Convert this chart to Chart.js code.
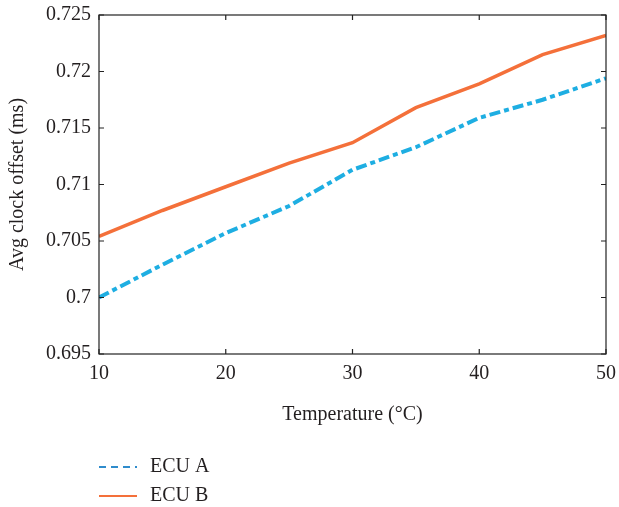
<!DOCTYPE html>
<html>
<head>
<meta charset="utf-8">
<script src="https://cdn.jsdelivr.net/npm/chart.js@4.4.0/dist/chart.umd.min.js"></script>
<style>
  html, body { margin: 0; padding: 0; background: #fff; }
  #wrap { width: 619px; height: 507px; position: relative; }
</style>
</head>
<body>
<div id="wrap"><canvas id="chart"></canvas></div>
<script>
const temps = [10, 15, 20, 25, 30, 35, 40, 45, 50]
const ecuA = [0.7000, 0.7029, 0.7057, 0.7081, 0.7113, 0.7133, 0.7159, 0.7175, 0.7194]
const ecuB = [0.7054, 0.7077, 0.7098, 0.7119, 0.7137, 0.7168, 0.7189, 0.7215, 0.7232]
const seriesNames = ["ECU A", "ECU B"]
const xTicks = [10, 20, 30, 40, 50]

const blue = "#1eaee2"
const orange = "#f4703a"
const font = "'Liberation Serif', 'DejaVu Serif', serif"

// frame box with inward ticks on all four sides
const boxPlugin = {
  id: "box",
  afterDraw(chart) {
    const { ctx, chartArea: a, scales } = chart
    ctx.save()
    ctx.strokeStyle = "#222"
    ctx.lineWidth = 1.2
    ctx.strokeRect(a.left, a.top, a.right - a.left, a.bottom - a.top)
    const len = 5
    scales.x.ticks.forEach(t => {
      const px = scales.x.getPixelForValue(t.value)
      ctx.beginPath()
      ctx.moveTo(px, a.bottom); ctx.lineTo(px, a.bottom - len)
      ctx.moveTo(px, a.top); ctx.lineTo(px, a.top + len)
      ctx.stroke()
    })
    scales.y.ticks.forEach(t => {
      const py = scales.y.getPixelForValue(t.value)
      ctx.beginPath()
      ctx.moveTo(a.left, py); ctx.lineTo(a.left + len, py)
      ctx.moveTo(a.right, py); ctx.lineTo(a.right - len, py)
      ctx.stroke()
    })
    ctx.restore()
  }
}

// vertical legend under the x-axis title
const legendPlugin = {
  id: "vlegend",
  afterDraw(chart) {
    const { ctx } = chart
    const colors = ["#2f8ccc", orange]
    ctx.save()
    ctx.font = "20px " + font
    ctx.fillStyle = "#231f20"
    ctx.textBaseline = "middle"
    chart.data.datasets.forEach((ds, i) => {
      const y = 467 + i * 29
      ctx.beginPath()
      ctx.strokeStyle = colors[i]
      ctx.lineWidth = 2
      ctx.setLineDash(i === 0 ? [7, 5] : [])
      ctx.moveTo(99, y); ctx.lineTo(137, y)
      ctx.stroke()
      ctx.setLineDash([])
      ctx.fillText(ds.label, 150, y)
    })
    ctx.restore()
  }
}

new Chart(document.getElementById("chart"), {
  type: "line",
  data: {
    datasets: [
      {
        label: seriesNames[0],
        data: temps.map((t, i) => ({ x: t, y: ecuA[i] })),
        borderColor: blue,
        borderWidth: 4,
        borderDash: [11, 4, 5, 4],
        pointRadius: 0,
        tension: 0,
        fill: false
      },
      {
        label: seriesNames[1],
        data: temps.map((t, i) => ({ x: t, y: ecuB[i] })),
        borderColor: orange,
        borderWidth: 3.5,
        pointRadius: 0,
        tension: 0,
        fill: false
      }
    ]
  },
  options: {
    responsive: true,
    maintainAspectRatio: false,
    animation: false,
    layout: { autoPadding: false, padding: { top: 15, right: 13, bottom: 76, left: 2 } },
    plugins: { legend: { display: false }, tooltip: { enabled: false } },
    scales: {
      x: {
        type: "linear",
        min: 10,
        max: 50,
        afterBuildTicks: s => { s.ticks = xTicks.map(v => ({ value: v })) },
        afterFit: s => { s.paddingLeft = 0; s.paddingRight = 0 },
        grid: { display: false, drawTicks: false },
        border: { display: false },
        ticks: { color: "#231f20", font: { family: font, size: 20 }, padding: 8 },
        title: {
          display: true,
          text: "Temperature (°C)",
          color: "#231f20",
          font: { family: font, size: 20 },
          padding: { top: 9 }
        }
      },
      y: {
        min: 0.695,
        max: 0.725,
        afterFit: s => { s.paddingTop = 0; s.paddingBottom = 0 },
        ticks: {
          stepSize: 0.005,
          color: "#231f20",
          font: { family: font, size: 20 },
          padding: 8,
          callback: v => String(parseFloat(v.toFixed(3)))
        },
        grid: { display: false, drawTicks: false },
        border: { display: false },
        title: {
          display: true,
          text: "Avg clock offset (ms)",
          color: "#231f20",
          font: { family: font, size: 20 },
          padding: { bottom: 8 }
        }
      }
    }
  },
  plugins: [boxPlugin, legendPlugin]
})
</script>
</body>
</html>
